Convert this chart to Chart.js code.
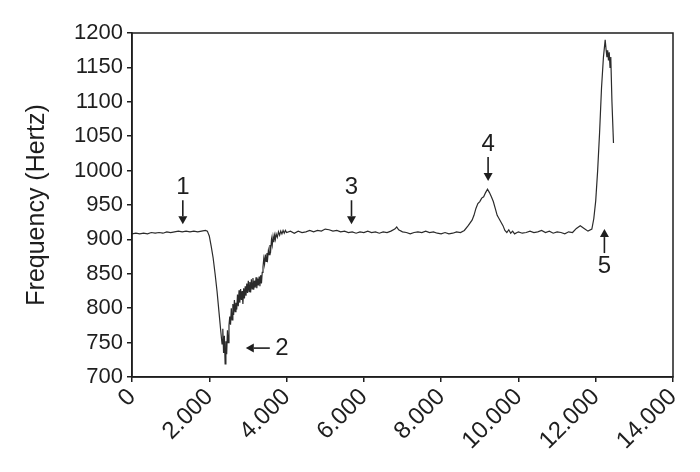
<!DOCTYPE html>
<html>
<head>
<meta charset="utf-8">
<script src="https://cdn.jsdelivr.net/npm/chart.js@4"></script>
<style>
  html, body { margin: 0; padding: 0; background: #fff; }
  canvas { display: block; }
</style>
</head>
<body>
<canvas id="freqChart" width="700" height="472"></canvas>
<script>
const timeValues = [
    0, 100, 200, 300, 400, 500, 600, 700, 800, 900, 1000, 1100, 1200, 1300, 1400, 1500, 1600, 1700, 1800, 1900, 1950,
    2000, 2050, 2100, 2150, 2200, 2250, 2300, 2330, 2350, 2370, 2390, 2410, 2430, 2450, 2470, 2490,
    2510, 2530, 2550, 2570, 2590, 2610, 2630, 2650, 2670, 2690, 2710, 2730, 2750, 2770, 2790,
    2810, 2830, 2850, 2870, 2890, 2910, 2930, 2950, 2970, 2990, 3010, 3030, 3050, 3070, 3090,
    3110, 3130, 3150, 3170, 3190, 3210, 3230, 3250, 3270, 3290, 3310, 3330, 3350, 3370, 3390,
    3410, 3430, 3450, 3470, 3490, 3510, 3530, 3550, 3570, 3590, 3610, 3630, 3650, 3670, 3690,
    3710, 3730, 3760, 3790, 3820, 3850, 3880, 3910, 3940, 3970, 4000,
    4100, 4200, 4300, 4400, 4500, 4600, 4700, 4800, 4900, 5000, 5100, 5200, 5300, 5400, 5500,
    5600, 5700, 5800, 5900, 6000, 6100, 6200, 6300, 6400, 6500, 6600, 6700, 6800, 6850, 6900,
    7000, 7100, 7200, 7300, 7400, 7500, 7600, 7700, 7800, 7900, 8000, 8100, 8200, 8300, 8400, 8500, 8600,
    8700, 8800, 8850, 8900, 8950, 9000, 9050, 9100, 9150, 9200, 9250, 9300, 9350, 9400, 9450,
    9500, 9550, 9600, 9650, 9700, 9750, 9800, 9850, 9900,
    10000, 10100, 10200, 10300, 10400, 10500, 10600, 10700, 10800, 10900, 11000, 11100, 11200,
    11300, 11400, 11500, 11600, 11700, 11800, 11900,
    11950, 12000, 12050, 12100, 12150, 12200, 12245, 12270, 12290, 12310, 12330, 12350, 12370, 12390, 12420, 12460
];
const freqValues = [
    908, 909, 908, 909, 908, 910, 909, 910, 909, 911, 910, 911, 912, 911, 912, 911, 912, 911, 912, 913, 912,
    905, 890, 873, 850, 825, 795, 765, 748, 770, 735, 760, 719, 752, 733, 768, 750,
    775, 788, 776, 800, 783, 806, 790, 812, 795, 808, 798, 820, 803, 826, 808,
    828, 812, 825, 806, 829, 814, 832, 818, 836, 822, 840, 824, 838, 823, 842,
    828, 844, 827, 840, 830, 845, 829, 843, 833, 846, 832, 848, 836, 852, 860,
    872, 864, 878, 868, 880, 872, 884, 878, 892, 885, 900, 892, 904, 896, 906,
    900, 908, 903, 911, 906, 912, 908, 913, 909, 913, 910,
    912, 909, 912, 910, 911, 913, 911, 913, 912, 915, 914, 912, 913, 911, 912,
    910, 911, 909, 911, 910, 912, 910, 911, 909, 911, 910, 912, 915, 918, 914,
    911, 910, 908, 910, 911, 910, 912, 910, 911, 909, 908, 910, 908, 909, 911, 910, 913,
    920, 928, 935, 945, 952, 955, 960, 962, 968, 973, 968, 962, 955, 945, 935,
    930, 925, 920, 913, 910, 914, 909, 912, 908,
    911, 909, 910, 912, 910, 911, 913, 910, 912, 909, 911, 910, 908,
    911, 910, 916, 920, 916, 912, 915,
    930, 956, 1000, 1055, 1120, 1165, 1190, 1175, 1165, 1175, 1160, 1172, 1150, 1165, 1100, 1040
];

// Graduations
const xTicks = [0, 2000, 4000, 6000, 8000, 10000, 12000, 14000];
const yTicks = [700, 750, 800, 850, 900, 950, 1000, 1050, 1100, 1150, 1200];

// Repères numérotés (pointe de la flèche en coordonnées de données)
const markLabels = ['1', '2', '3', '4', '5'];
const markX = [1315, 2945, 5680, 9215, 12225];
const markY = [922, 742, 922, 985, 915];
const markDir = ['down', 'left', 'down', 'down', 'up'];

const ink = '#1e1e1e';
const font = 'Liberation Sans, Arial, Helvetica, sans-serif';

function formatTick(v) {
    if (v === 0) return '0';
    return (v / 1000) + '.000';
}

// Cadre autour de la zone de tracé
const framePlugin = {
    id: 'frame',
    afterDatasetsDraw(chart) {
        const a = chart.chartArea;
        const ctx = chart.ctx;
        ctx.save();
        ctx.strokeStyle = ink;
        ctx.lineWidth = 1.5;
        ctx.strokeRect(a.left, a.top, a.right - a.left, a.bottom - a.top);
        ctx.restore();
    }
};

// Flèches et numéros
const marksPlugin = {
    id: 'marks',
    afterDatasetsDraw(chart) {
        const ctx = chart.ctx;
        const xs = chart.scales.x, ys = chart.scales.y;
        ctx.save();
        ctx.fillStyle = ink;
        ctx.strokeStyle = ink;
        ctx.lineWidth = 1.6;
        ctx.font = '24px ' + font;
        ctx.textAlign = 'center';
        ctx.textBaseline = 'middle';
        const len = 24, head = 8, hw = 4.5;
        markLabels.forEach((lab, i) => {
            const px = xs.getPixelForValue(markX[i]);
            const py = ys.getPixelForValue(markY[i]);
            let dx = 0, dy = 0;
            if (markDir[i] === 'down') dy = 1;
            if (markDir[i] === 'up') dy = -1;
            if (markDir[i] === 'left') dx = -1;
            const tx = px - dx * len, ty = py - dy * len;
            ctx.beginPath();
            ctx.moveTo(tx, ty);
            ctx.lineTo(px - dx * head, py - dy * head);
            ctx.stroke();
            ctx.beginPath();
            ctx.moveTo(px, py);
            ctx.lineTo(px - dx * head + dy * hw, py - dy * head + dx * hw);
            ctx.lineTo(px - dx * head - dy * hw, py - dy * head - dx * hw);
            ctx.closePath();
            ctx.fill();
            ctx.fillText(lab, tx - dx * 12, ty - dy * 13);
        });
        ctx.restore();
    }
};

const ctx = document.getElementById('freqChart').getContext('2d');
new Chart(ctx, {
    type: 'line',
    data: {
        datasets: [{
            data: timeValues.map((t, i) => ({ x: t, y: freqValues[i] })),
            borderColor: '#2b2b2b',
            borderWidth: 1.2,
            pointRadius: 0,
            tension: 0,
            fill: false
        }]
    },
    options: {
        responsive: false,
        animation: false,
        devicePixelRatio: 1,
        layout: { padding: { top: 33, right: 27, left: 0, bottom: 0 } },
        plugins: {
            legend: { display: false },
            tooltip: { enabled: false }
        },
        scales: {
            x: {
                type: 'linear',
                min: 0,
                max: 14000,
                afterFit: s => { s.height = 95; },
                afterBuildTicks: s => { s.ticks = xTicks.map(v => ({ value: v })); },
                grid: { drawOnChartArea: false, drawTicks: true, tickLength: 5, color: ink, lineWidth: 1.5 },
                border: { color: ink, width: 1.5 },
                ticks: {
                    color: ink,
                    font: { family: font, size: 24 },
                    maxRotation: 45,
                    minRotation: 45,
                    padding: 1,
                    callback: v => formatTick(v)
                }
            },
            y: {
                min: 700,
                max: 1200,
                afterFit: s => { s.width = 132; },
                afterBuildTicks: s => { s.ticks = yTicks.map(v => ({ value: v })); },
                grid: { drawOnChartArea: false, drawTicks: true, tickLength: 5, color: ink, lineWidth: 1.5 },
                border: { color: ink, width: 1.5 },
                ticks: {
                    color: ink,
                    font: { family: font, size: 22 },
                    padding: 4,
                    callback: v => String(v)
                },
                title: {
                    display: true,
                    text: 'Frequency (Hertz)',
                    color: ink,
                    font: { family: font, size: 25 },
                    padding: { top: 22, bottom: 0 }
                }
            }
        }
    },
    plugins: [framePlugin, marksPlugin]
});
</script>
</body>
</html>
